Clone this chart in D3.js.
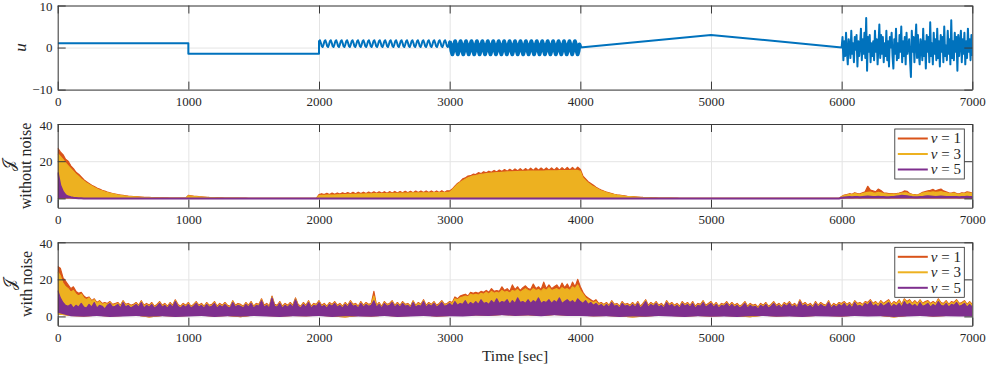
<!DOCTYPE html>
<html><head><meta charset="utf-8">
<script src="https://cdn.jsdelivr.net/npm/d3@7"></script>
<style>
body{margin:0;background:#fff}
text{font-family:"Liberation Serif","DejaVu Serif",serif;fill:#262626}
</style>
</head><body>
<svg id="c" width="987" height="366"></svg>
<script>
// ---------------- DATA ----------------
const xTicks = [0,1000,2000,3000,4000,5000,6000,7000];
const uTicks = [-10,0,10];
const jTicks = [0,20,40];
const seriesNames = ["1","3","5"];          // nu values
const seriesColors = ["#D95319","#EDB120","#7E2F8E"];

// u : piecewise knots
const uStepTimes = [0,1000,1000,2000];
const uStepValues = [1,1,-1.5,-1.5];
const uSine1 = [ // 2000 -> 3000
1.52,1.73,1.14,0.34,0.13,0.71, 1.52,1.73,1.14,0.34,0.13,0.71, 1.52,1.73,1.14,0.34,0.13,0.71, 1.52,1.73,1.14,0.34,0.13,0.71,
1.52,1.73,1.14,0.34,0.13,0.71, 1.52,1.73,1.14,0.34,0.13,0.71, 1.52,1.73,1.14,0.34,0.13,0.71, 1.52,1.73,1.14,0.34,0.13,0.71,
1.52,1.73,1.14,0.34,0.13,0.71, 1.52,1.73,1.14,0.34,0.13,0.71, 1.52,1.73,1.14,0.34,0.13,0.71, 1.52,1.73,1.14,0.34,0.13,0.71,
1.52,1.73,1.14,0.34,0.13,0.71, 1.52,1.73,1.14,0.34,0.13,0.71, 1.52,1.73,1.14,0.34,0.13,0.71, 1.52,1.73,1.14,0.34,0.13,0.71,
1.52,1.73,1.14,0.34,0.13,0.71, 1.52,1.73,1.14,0.34,0.13,0.71, 1.52,1.73,1.14,0.34,0.13,0.71, 1.52,1.73,1.14,0.34,0.13,0.71,
1.52,1.73,1.14,0.34,0.13,0.71, 1.52,1.73,1.14,0.34,0.13,0.71, 1.52,1.73,1.14,0.34,0.13,0.71, 1.52,1.73,1.14,0.34,0.13,0.71,
1.52];
const uSine2 = [ // 3000 -> 4000
1.5,0.73,-0.83,-1.6,-0.83,0.73, 1.5,0.73,-0.83,-1.6,-0.83,0.73, 1.5,0.73,-0.83,-1.6,-0.83,0.73, 1.5,0.73,-0.83,-1.6,-0.83,0.73,
1.5,0.73,-0.83,-1.6,-0.83,0.73, 1.5,0.73,-0.83,-1.6,-0.83,0.73, 1.5,0.73,-0.83,-1.6,-0.83,0.73, 1.5,0.73,-0.83,-1.6,-0.83,0.73,
1.5,0.73,-0.83,-1.6,-0.83,0.73, 1.5,0.73,-0.83,-1.6,-0.83,0.73, 1.5,0.73,-0.83,-1.6,-0.83,0.73, 1.5,0.73,-0.83,-1.6,-0.83,0.73,
1.5,0.73,-0.83,-1.6,-0.83,0.73, 1.5,0.73,-0.83,-1.6,-0.83,0.73, 1.5,0.73,-0.83,-1.6,-0.83,0.73, 1.5,0.73,-0.83,-1.6,-0.83,0.73,
1.5,0.73,-0.83,-1.6,-0.83,0.73, 1.5,0.73,-0.83,-1.6,-0.83,0.73, 1.5,0.73,-0.83,-1.6,-0.83,0.73, 1.5,0.73,-0.83,-1.6,-0.83,0.73,
1.5,0.73,-0.83,-1.6,-0.83,0.73, 1.5,0.73,-0.83,-1.6,-0.83,0.73, 1.5,0.73,-0.83,-1.6,-0.83,0.73, 1.5,0.73,-0.83,-1.6,-0.83,0.73,
0];
const uRampTimes = [4000,5000,6000];
const uRampValues = [0,3,0];
const uNoise = [ // 6000 -> 7000
0,2.5,-3,1.5,-2,3.5,-1,-4,2,0.5,
-2.5,4,-1.5,1,-3.5,2.5,-0.5,3,-4.5,1.5,
-2,0.5,4.5,-3,2,-1.5,3.5,-2.5,7,-5.5,
2.5,-1,3,-3.5,1,-2,1.5,-3,4,-1,
2,-4,0.5,5.5,-2.5,3,-1.5,2.5,-3.5,1,
-2,4,-3,1.5,-4.5,2.5,0,3.5,-2,-5,
2,-1.5,4.5,-3,1,-2.5,3,-1,5,-3.5,
1.5,-2,2.5,-4,3.5,-1.5,0.5,2,-3,-7,
4,-1,2.5,-3.5,1,5.5,-2.5,3,-1.5,-4,
2,0.5,-3,4.5,-2,1.5,-5,3,-1,2.5,
-3.5,6,-2,1,-4,3.5,-1.5,2,-3,4.5,
-2.5,1.5,-4.5,3,-1,2.5,-3.5,5,-2,0.5,
-3,4,-1.5,2,-4,6.5,-2.5,1.5,-3,3.5,
-1,2.5,-5.5,3,-2,1,4,-3.5,2,-1.5,
3.5,-4,1.5,-2.5,4.5,-1,2,-3,3,-2];

// J without noise (t = 0..7000, step 20)
const jNoNoise1 = [
27,25,23.5,21,20,17.5,16,14,13,11.5,
10,9,8,7,6.3,5.5,5,4.3,3.9,3.4,
3,2.6,2.3,2,1.8,1.6,1.4,1.2,1.1,1,
0.9,0.8,0.7,0.6,0.55,0.5,0.45,0.4,0.35,0.3,
0.3,0.25,0.25,0.2,0.2,0.2,0.15,0.15,0.1,0.1,
1.6,1.4,1.2,1.1,0.9,0.8,0.7,0.6,0.5,0.45,
0.4,0.35,0.3,0.25,0.2,0.2,0.15,0.15,0.1,0.1,
0.1,0.1,0.1,0.05,0.05,0.05,0.05,0.05,0.05,0.05,
0,0,0,0,0,0,0,0,0,0,
0,0,0,0,0,0,0,0,0,0,
2,2.5,2,2.7,2.1,2.8,2.2,2.9,2.3,3,
2.4,3.1,2.5,3.2,2.5,3.3,2.6,3.3,2.6,3.4,
2.7,3.5,2.7,3.5,2.8,3.6,2.8,3.6,2.9,3.7,
2.9,3.7,3,3.8,3,3.8,3,3.9,3.1,3.9,
3.1,4,3.1,4,3.2,4,3.2,4.1,3.2,4.1,
4,5,6.5,8,9,10.5,11,12,12.2,13,
12.8,13.8,13.3,14.3,13.7,14.6,14,15,14.2,15.2,
14.4,15.5,14.6,15.6,14.7,15.8,14.8,16,14.9,16,
15,16.2,15,16.3,15.1,16.3,15.1,16.4,15.2,16.4,
15.2,16.5,15.2,16.5,15.3,16.6,15.3,16.6,15.3,16.8,
15.5,12,10.5,9,8,7,6,5.2,4.5,3.9,
3.4,3,2.6,2.2,1.9,1.7,1.5,1.3,1.1,1,
0.9,0.8,0.7,0.6,0.5,0.45,0.4,0.35,0.3,0.25,
0.2,0.2,0.15,0.15,0.1,0.1,0.1,0.1,0.05,0.05,
0.05,0.05,0,0,0,0,0,0,0,0,
0,0,0,0,0,0,0,0,0,0,
0,0,0,0,0,0,0,0,0,0,
0,0,0,0,0,0,0,0,0,0,
0,0,0,0,0,0,0,0,0,0,
0,0,0,0,0,0,0,0,0,0,
1,1.8,2,2.5,2.2,3,2.6,2.4,3,3.5,
6.5,4.5,4,3.5,5,4.2,3,2.8,2.5,2.6,
2.4,2.6,2.8,3.2,4,3.8,2.6,2.2,2,1.8,
2.5,3.2,3.6,4,4.3,4.8,4,4.6,5,4,
3.5,3,2.8,3.2,2.6,2.4,3,2.8,3.5,3.2,
2.8];
const jNoNoise3 = [
24,22.5,21,19,17.5,16,14.5,13,11.8,10.5,
9.3,8.3,7.4,6.6,5.8,5.1,4.5,4,3.5,3.1,
2.7,2.4,2.1,1.8,1.6,1.4,1.2,1.05,0.95,0.85,
0.75,0.65,0.6,0.5,0.45,0.4,0.35,0.3,0.3,0.25,
0.2,0.2,0.2,0.15,0.15,0.1,0.1,0.1,0.1,0.1,
1.3,1.2,1,0.9,0.8,0.7,0.6,0.5,0.45,0.4,
0.35,0.3,0.25,0.2,0.2,0.15,0.15,0.1,0.1,0.1,
0.05,0.05,0.05,0.05,0.05,0.05,0.05,0.05,0.05,0.05,
0,0,0,0,0,0,0,0,0,0,
0,0,0,0,0,0,0,0,0,0,
1.5,1.6,1.6,1.7,1.7,1.8,1.8,1.9,1.9,2,
2,2.1,2.1,2.2,2.2,2.3,2.3,2.3,2.4,2.4,
2.4,2.5,2.5,2.5,2.6,2.6,2.6,2.7,2.7,2.7,
2.7,2.8,2.8,2.8,2.8,2.9,2.9,2.9,2.9,3,
3,3,3,3,3.1,3.1,3.1,3.1,3.1,3.2,
3.3,4.5,6,7.5,8.5,9.5,10.3,11,11.6,12.1,
12.3,12.6,12.9,13.1,13.3,13.5,13.6,13.7,13.8,13.9,
14,14.1,14.2,14.3,14.3,14.4,14.4,14.5,14.5,14.5,
14.6,14.6,14.6,14.7,14.7,14.7,14.7,14.8,14.8,14.8,
14.8,14.8,14.9,14.9,14.9,14.9,14.9,15,15,15,
14.5,11,9.5,8.2,7.2,6.3,5.5,4.8,4.1,3.6,
3.1,2.7,2.3,2,1.7,1.5,1.3,1.1,1,0.9,
0.8,0.7,0.6,0.5,0.45,0.4,0.35,0.3,0.25,0.2,
0.2,0.15,0.15,0.1,0.1,0.1,0.05,0.05,0.05,0.05,
0,0,0,0,0,0,0,0,0,0,
0,0,0,0,0,0,0,0,0,0,
0,0,0,0,0,0,0,0,0,0,
0,0,0,0,0,0,0,0,0,0,
0,0,0,0,0,0,0,0,0,0,
0,0,0,0,0,0,0,0,0,0,
0.8,1.5,1.8,2.2,2,2.6,2.3,2.1,2.6,2.9,
3.2,3.4,3,2.8,3.3,3,2.6,2.4,2.2,2.3,
2.1,2.3,2.5,2.8,3,2.9,2.3,2,1.8,1.7,
2.2,2.8,3.1,3.3,3.2,3.5,3.2,3.4,3.6,3.2,
3,2.7,2.5,2.8,2.3,2.2,2.6,2.5,3,2.8,
2.5];
const jNoNoise5 = [
14,7,3.6,1.8,1,0.6,0.3,0.2,0.1,0.1,
0,0,0,0,0,0,0,0,0,0,
0,0,0,0,0,0,0,0,0,0,
0,0,0,0,0,0,0,0,0,0,
0,0,0,0,0,0,0,0,0,0,
0,0,0,0,0,0,0,0,0,0,
0,0,0,0,0,0,0,0,0,0,
0,0,0,0,0,0,0,0,0,0,
0,0,0,0,0,0,0,0,0,0,
0,0,0,0,0,0,0,0,0,0,
0,0,0,0,0,0,0,0,0,0,
0,0,0,0,0,0,0,0,0,0,
0,0,0,0,0,0,0,0,0,0,
0,0,0,0,0,0,0,0,0,0,
0,0,0,0,0,0,0,0,0,0,
0,0,0,0,0,0,0,0,0,0,
0,0,0,0,0,0,0,0,0,0,
0,0,0,0,0,0,0,0,0,0,
0,0,0,0,0,0,0,0,0,0,
0,0,0,0,0,0,0,0,0,0,
0,0,0,0,0,0,0,0,0,0,
0,0,0,0,0,0,0,0,0,0,
0,0,0,0,0,0,0,0,0,0,
0,0,0,0,0,0,0,0,0,0,
0,0,0,0,0,0,0,0,0,0,
0,0,0,0,0,0,0,0,0,0,
0,0,0,0,0,0,0,0,0,0,
0,0,0,0,0,0,0,0,0,0,
0,0,0,0,0,0,0,0,0,0,
0,0,0,0,0,0,0,0,0,0,
0.3,0.5,0.6,0.7,0.6,0.8,0.7,0.6,0.8,0.9,
1,0.9,0.8,0.7,0.9,0.8,0.7,0.6,0.6,0.7,
0.8,1,1.2,1.4,1.3,1.1,0.9,0.7,0.6,0.6,
0.7,0.8,1,1.1,1,0.9,0.8,0.9,1,0.9,
0.8,0.7,0.7,0.8,0.7,0.6,0.7,0.8,0.9,0.8,
0.7];
const jNoNoiseFloor = [0,0];

// J with noise: upper envelopes (step 20) and lower envelopes (step 100)
const jNoise1 = [
27,26,21,19,17,15,16,13.5,12.5,13,
11,10,10.5,8.5,9.5,7.5,8.5,7,7.5,7,
8,6.5,7,7.5,6,8.5,6.5,7,6,6.5,
7.5,6,8.5,6,7,6,7.5,5.5,6.5,8,
6,7,5.5,7.5,6,9,6.5,5.5,7,6,
7.5,5.5,6.5,8,6,7,5.5,7.5,6,6.5,
8,5.5,7,6,7.5,6,5.5,8.5,6,7,
6.5,5.5,7.5,6,8,5.5,7,6.5,9.5,6,
7,5.5,11,6.5,6,8,5.5,7,6,7.5,
6,10,6.5,5.5,7.5,6,8.5,5.5,7,6.5,
8.5,6,7,5.5,7.5,6.5,8,6,7,5.5,
7.5,6,8.5,6.5,7,5.5,8,6,7.5,6.5,
7,13.5,6,7.5,5.5,8,6.5,7,8.5,6,
7.5,6,8,6.5,7,5.5,8.5,6,7.5,6.5,
9,6,7.5,6.5,8,6,7,8.5,6.5,7,
8,7.5,10.5,9.5,11,11.5,12,11,13,12.5,
13,12.5,13.5,13,14,13,15,13.5,14,13.5,
16,14,15,13.5,17,14.5,16,14,15.5,16.5,
15,14.5,17.5,15,16,14.5,18.5,15,17,15,
16,17,15,18,15.5,17.5,15,18.5,16,20,
16,13,11,10,9,8,9,7,7.5,6.5,
7.5,6,8.5,6.5,7,5.5,8,6.5,7,6,
7.5,6,8,5.5,7,9,6,7.5,6.5,8,
6,7,5.5,8.5,6.5,7.5,6,7,5.5,8,
6.5,7.5,6,8,5.5,7,6.5,8.5,6,7,
8,6,7.5,5.5,7,6.5,8,6,7.5,6,
7,5.5,6.5,8,5.5,7,6,6.5,5,7,
6,7.5,5.5,6.5,8,6,7,5.5,7.5,6.5,
8,6,7,5.5,9,6.5,7.5,6,7,5.5,
8,6,7.5,6.5,6,8.5,5.5,7,6,7.5,
7,8,6.5,7.5,6,8.5,7,7.5,6.5,8,
7.5,9,7,8,6.5,8.5,7,8,9,6.5,
8,7,9,6.5,9.5,8,9,7,8.5,7,
9,7,8,8.5,7,8,7,9.5,7.5,7,
8.5,6.5,8,7.5,9,7,7.5,8.5,6.5,8,
6.5];
const jNoise3 = [
24,22,18,16,15,13,14,12,11,12,
10,9,10,8,9,7,8,6.5,7,6.5,
7.5,6,6.5,7,5.5,8,6,6.5,5.5,6,
7,5.5,8,5.5,6.5,5.5,7,5,6,7.5,
5.5,6.5,5,7,5.5,8.5,6,5,6.5,5.5,
7,5,6,7.5,5.5,6.5,5,7,5.5,6,
7.5,5,6.5,5.5,7,5.5,5,8,5.5,6.5,
6,5,7,5.5,7.5,5,6.5,6,9,5.5,
6.5,5,10.5,6,5.5,7.5,5,6.5,5.5,7,
5.5,9.5,6,5,7,5.5,8,5,6.5,6,
8,5.5,6.5,5,7,6,7.5,5.5,6.5,5,
7,5.5,8,6,6.5,5,7.5,5.5,7,6,
6.5,11,5.5,7,5,7.5,6,6.5,8,5.5,
7,5.5,7.5,6,6.5,5,8,5.5,7,6,
8.5,5.5,7,6,7.5,5.5,6.5,8,6,6.5,
7.5,7,9.5,9,10,10.5,11,10.5,12,11.5,
12,11.5,12.5,12,13,12,13.5,12.5,13,12.5,
14,13,13.5,12.5,14,13.5,14.5,13,14,15,
14,13.5,15,14,14.5,13.5,15,14,15.5,14,
14.5,15,14,15.5,14.5,15,14,16,15,17,
14,12,10,9,8,7.5,8,6.5,7,6,
7,5.5,8,6,6.5,5,7.5,6,6.5,5.5,
7,5.5,7.5,5,6.5,8.5,5.5,7,6,7.5,
5.5,6.5,5,8,6,7,5.5,6.5,5,7.5,
6,7,5.5,7.5,5,6.5,6,8,5.5,6.5,
7.5,5.5,7,5,6.5,6,7.5,5.5,7,5.5,
6.5,5,6,7.5,5,6.5,5.5,6,4.5,6.5,
5.5,7,5,6,7.5,5.5,6.5,5,7,6,
7.5,5.5,6.5,5,8.5,6,7,5.5,6.5,5,
7.5,5.5,7,6,5.5,8,5,6.5,5.5,7,
6.5,7.5,6,7,5.5,8,6.5,7,6,7.5,
7,8.5,6.5,7.5,6,8,6.5,7.5,8.5,6,
7.5,6.5,8.5,6,9,7.5,8.5,6.5,8,6.5,
8.5,6.5,7.5,8,6.5,7.5,6.5,9,7,6.5,
8,6,7.5,7,8.5,6.5,7,8,6,7.5,
6];
const jNoise5 = [
14,10,7.5,6,5.5,6.5,4.5,6,5,7,
5,4.5,6.5,5,7.5,4.5,6,5.5,4,6,
7,5,5.5,6.5,4.5,7.5,5,6,4.5,5.5,
6.5,5,7.5,4.5,6,5,6.5,4.5,5.5,7,
5,6,4.5,6.5,5,8,5.5,4.5,6,5,
6.5,4.5,5.5,7,5,6,4.5,6.5,5,5.5,
7,4.5,6,5,6.5,5,4.5,7.5,5,6,
5.5,4.5,6.5,5,7,4.5,6,5.5,8.5,5,
6,4.5,10,5.5,5,7,4.5,6,5,6.5,
5,9,5.5,4.5,6.5,5,7.5,4.5,6,5.5,
7.5,5,6,4.5,6.5,5.5,7,5,6,4.5,
6.5,5,7.5,5.5,6,4.5,7,5,6.5,5.5,
6,8.5,5,6.5,4.5,7,5.5,6,7.5,5,
6.5,5,7,5.5,6,4.5,7.5,5,6,5.5,
8,5,6.5,5.5,7,5,6,7.5,5.5,6,
7,5.5,8,6,7,6.5,8.5,6,7.5,6.5,
8,6.5,9,7,7.5,6.5,8.5,7,9.5,7,
8,7.5,9,6.5,8.5,7,10,7.5,8,7,
9,7,8.5,7.5,10,7,8,7.5,9,7,
8.5,7.5,10,7,8,9,7.5,8.5,7,9.5,
8,7,8.5,6.5,7.5,6,7,5.5,6.5,5,
6.5,5,7.5,5.5,6,4.5,7,5.5,6,5,
6.5,5,7,4.5,6,8,5,6.5,5.5,7,
5,6,4.5,7.5,5.5,6.5,5,6,4.5,7,
5.5,6.5,5,7,4.5,6,5.5,7.5,5,6,
7,5,6.5,4.5,6,5.5,7,5,6.5,5,
6,4.5,5.5,7,4.5,6,5,5.5,4,6,
5,6.5,4.5,5.5,7,5,6,4.5,6.5,5.5,
7,5,6,4.5,8,5.5,6.5,5,6,4.5,
7,5,6.5,5.5,5,7.5,4.5,6,5,6.5,
5.5,7,5,6.5,4.5,7.5,5.5,6,5,7,
6,8,5.5,6.5,5,7,5.5,6.5,7.5,5,
6.5,5.5,7,5,8,6,7,5.5,6.5,5,
7.5,5.5,6,7,5,6.5,5.5,8,6,5.5,
7,5,6.5,6,7.5,5.5,6,7,5,6.5,
5];
const jNoiseLow5 = [
2,0.1,-0.2,0.2,-0.3,0,0.3,-0.2,0.1,-0.3,
0,0.2,-0.3,0.1,-0.2,0.3,0,-0.3,0.1,-0.1,
0.2,-0.3,0.1,0,-0.2,0.2,-0.3,0,0.3,-0.2,
0.1,0,0.4,0.2,0.6,0.3,0.5,0.1,0.6,0.3,
0.2,-0.1,0.1,-0.3,0,-0.2,0.2,0,-0.3,0.1,
-0.2,0,-0.3,0.1,0.2,-0.2,0,-0.3,0.1,0,
-0.2,0.2,0,0.1,-0.3,0,0.3,-0.2,0.1,0,
0];
const jNoiseLow3 = [
1,0.3,-0.1,0.4,0,0.2,0.5,-0.6,0.3,-0.1,
0.2,0.4,-0.1,0.3,-0.5,0.5,0.2,-0.1,0.3,0.1,
0.4,-0.1,-0.6,0.2,0,0.4,-0.1,0.2,0.5,0,
0.3,0.2,0.6,0.4,0.8,0.5,0.7,0.3,0.8,0.5,
0.4,0.1,0.3,-0.1,-0.6,0,0.4,0.2,-0.1,0.3,
0,0.2,-0.1,-0.5,0.4,0,0.2,-0.1,0.3,0.2,
0,0.4,0.2,0.3,-0.6,0.2,0.5,0,0.3,0.2,
0.2];

// ---------------- LAYOUT ----------------
const X0 = 57.7, X1 = 972.3;
const svg = d3.select("#c");
const x = d3.scaleLinear([0, 7000], [X0, X1]);
const AX = "#3a3a3a", GRID = "#e4e4e4";

const panels = [
  {top: 5.5, bottom: 89.6, domain: [-10, 10], ticks: uTicks},
  {top: 124, bottom: 207.7, domain: [-5, 40], ticks: jTicks},
  {top: 242.3, bottom: 325.7, domain: [-5, 40], ticks: jTicks}
];

function makePanel(p, i) {
  const y = d3.scaleLinear(p.domain, [p.bottom, p.top]);
  const h = p.bottom - p.top;
  const g = svg.append("g");
  g.append("clipPath").attr("id", "clip" + i).append("rect")
    .attr("x", X0).attr("y", p.top).attr("width", X1 - X0).attr("height", h);
  g.append("g").attr("transform", `translate(0,${p.bottom})`)
    .call(d3.axisBottom(x).tickValues(xTicks).tickSize(-h).tickFormat(""))
    .call(s => { s.select(".domain").remove(); s.selectAll("line").attr("stroke", GRID); });
  g.append("g").attr("transform", `translate(${X0},0)`)
    .call(d3.axisLeft(y).tickValues(p.ticks).tickSize(-(X1 - X0)).tickFormat(""))
    .call(s => { s.select(".domain").remove(); s.selectAll("line").attr("stroke", GRID); });
  const data = g.append("g").attr("clip-path", `url(#clip${i})`);
  p.y = y; p.g = g; p.data = data;
  return p;
}
function finishAxes(p) {
  const g = p.g.append("g");
  const style = s => { s.selectAll("path,line").attr("stroke", AX).attr("stroke-width", 1);
    s.selectAll("text").attr("fill", "#262626").attr("font-size", 13)
      .attr("font-family", '"Liberation Serif", serif'); };
  g.append("g").attr("transform", `translate(0,${p.bottom})`)
    .call(d3.axisBottom(x).tickValues(xTicks).tickSizeInner(-8).tickSizeOuter(0).tickPadding(7.5).tickFormat(d3.format("d")))
    .call(style);
  g.append("g").attr("transform", `translate(0,${p.top})`)
    .call(d3.axisTop(x).tickValues(xTicks).tickSizeInner(-8).tickSizeOuter(0).tickFormat(""))
    .call(style);
  g.append("g").attr("transform", `translate(${X0},0)`)
    .call(d3.axisLeft(p.y).tickValues(p.ticks).tickSizeInner(-8).tickSizeOuter(0).tickPadding(5.2).tickFormat(d3.format("d")))
    .call(style)
    .call(s => s.selectAll("text").attr("dy", d => d === p.domain[1] ? "0.42em" : "0.32em"));
  g.append("g").attr("transform", `translate(${X1},0)`)
    .call(d3.axisRight(p.y).tickValues(p.ticks).tickSizeInner(-8).tickSizeOuter(0).tickFormat(""))
    .call(style);
}

panels.forEach(makePanel);

// ---------------- PANEL 1 : u ----------------
(function () {
  const p = panels[0];
  const pts = [];
  uStepTimes.forEach((t, k) => pts.push([t, uStepValues[k]]));
  uSine1.forEach((v, k) => pts.push([2000 + k * 1000 / (uSine1.length - 1), v]));
  const s2 = uSine2.map((v, k) => [3000 + k * 1000 / (uSine2.length - 1), v]);
  s2.forEach(d => pts.push(d));
  uRampTimes.forEach((t, k) => pts.push([t, uRampValues[k]]));
  uNoise.forEach((v, k) => pts.push([6000 + k * 1000 / (uNoise.length - 1), v]));
  const line = d3.line().x(d => x(d[0])).y(d => p.y(d[1]));
  p.data.append("path").attr("d", line(pts)).attr("fill", "none")
    .attr("stroke", "#0072BD").attr("stroke-width", 2).attr("stroke-linejoin", "round");
  p.data.append("path").attr("d", line(s2)).attr("fill", "none")
    .attr("stroke", "#0072BD").attr("stroke-width", 4).attr("stroke-linejoin", "round");
})();

// ---------------- PANELS 2,3 : J ----------------
function bandPath(p, top, low) {
  const pts = top.map((v, k) => [k * 7000 / (top.length - 1), v]);
  const lo = low.map((v, k) => [k * 7000 / (low.length - 1), v]).reverse();
  return d3.line().x(d => x(d[0])).y(d => p.y(d[1]))(pts.concat(lo)) + "Z";
}
function topPath(p, top) {
  return d3.line().x((v, k) => x(k * 7000 / (top.length - 1))).y(v => p.y(v))(top);
}
function drawJ(p, tops, lows, widths) {
  tops.forEach((top, k) => {
    p.data.append("path").attr("d", bandPath(p, top, lows[k])).attr("fill", seriesColors[k]).attr("stroke", "none");
    p.data.append("path").attr("d", topPath(p, top)).attr("fill", "none")
      .attr("stroke", seriesColors[k]).attr("stroke-width", widths[k]).attr("stroke-linejoin", "round");
  });
}
drawJ(panels[1], [jNoNoise1, jNoNoise3, jNoNoise5], [jNoNoiseFloor, jNoNoiseFloor, jNoNoiseFloor], [1.3, 1.3, 2]);
drawJ(panels[2], [jNoise1, jNoise3, jNoise5], [jNoiseLow3, jNoiseLow3, jNoiseLow5], [1.2, 1.2, 1.2]);

panels.forEach(finishAxes);

// ---------------- LEGENDS ----------------
[panels[1], panels[2]].forEach(p => {
  const lg = p.g.append("g").attr("transform", `translate(${X1 - 77.5},${p.top + 5})`);
  lg.append("rect").attr("x", 0).attr("y", 0).attr("width", 69.5).attr("height", 50)
    .attr("fill", "#fff").attr("stroke", "#262626").attr("stroke-width", 0.8);
  seriesNames.forEach((n, k) => {
    const yy = 9.5 + k * 15.5;
    lg.append("line").attr("x1", 3).attr("x2", 33).attr("y1", yy).attr("y2", yy)
      .attr("stroke", seriesColors[k]).attr("stroke-width", 2);
    const t = lg.append("text").attr("x", 36).attr("y", yy).attr("dy", "0.33em").attr("font-size", 15);
    t.append("tspan").attr("font-style", "italic").text("ν");
    t.append("tspan").text(" = " + n);
  });
});

// ---------------- LABELS ----------------
function vlabel(txt, cx, cy, size, italic) {
  svg.append("text").attr("transform", `translate(${cx},${cy}) rotate(-90)`)
    .attr("text-anchor", "middle").attr("font-size", size)
    .attr("font-style", italic ? "italic" : "normal").text(txt);
}
vlabel("u", 25.5, 47.5, 17, true);
vlabel("𝒥", 13.5, 165, 16, false);
vlabel("without noise", 30.5, 166, 16, false);
vlabel("𝒥", 14.5, 284, 16, false);
vlabel("with noise", 32.3, 284, 16, false);
svg.append("text").attr("x", (X0 + X1) / 2).attr("y", 360.5).attr("text-anchor", "middle")
  .attr("font-size", 15.5).text("Time [sec]");
</script>
</body></html>
